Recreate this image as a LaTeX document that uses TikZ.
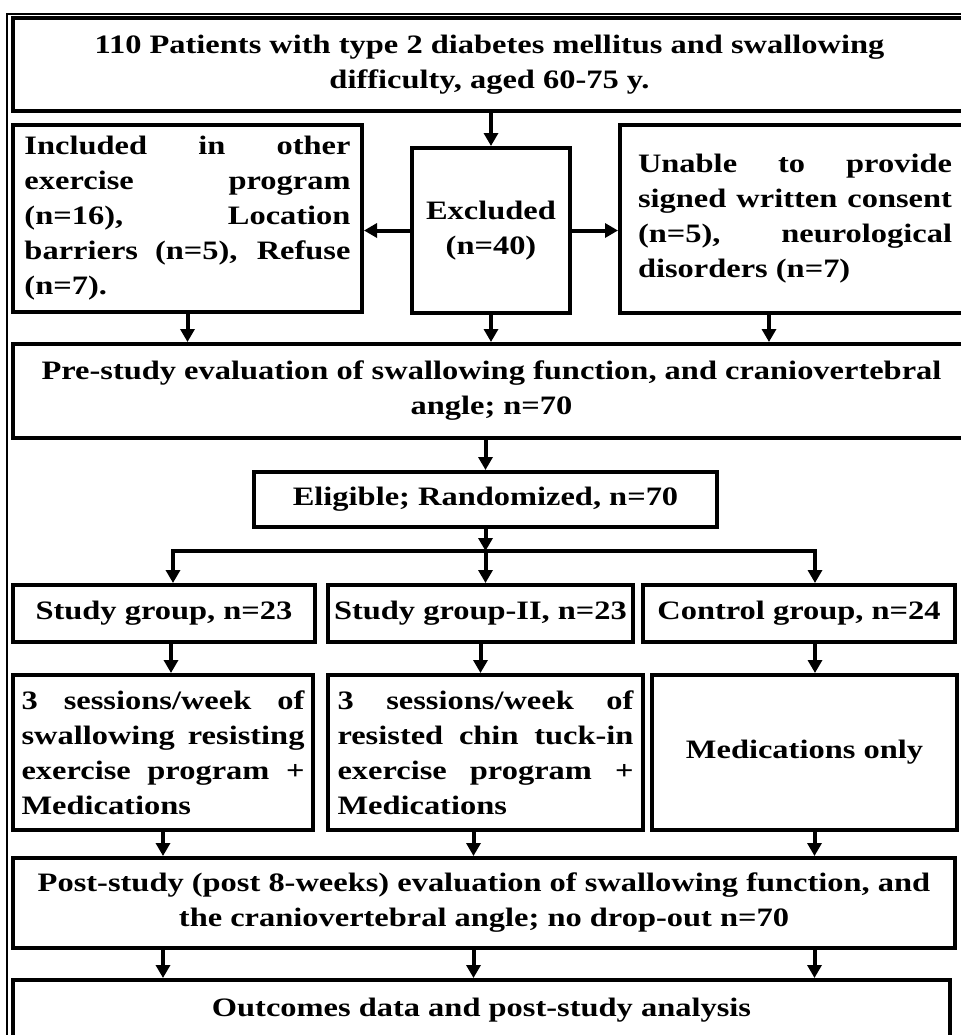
\documentclass[tikz,border=0pt]{standalone}
\usepackage{fontspec}
\setmainfont{Liberation Serif}[FakeStretch=1.22]
\usetikzlibrary{positioning, arrows.meta}
\hyphenpenalty=10000
\exhyphenpenalty=10000

\begin{document}
\begin{tikzpicture}[
  x=0.5pt, y=-0.5pt,
  box/.style={draw, line width=2pt, inner sep=0pt, align=center,
    font=\fontsize{13.3}{17.5}\selectfont\bfseries},
  just/.style={box, align=justify},
  arr/.style={-{Triangle[length=6.5pt, width=7pt]}, line width=2pt},
  frame/.style={line width=0.8pt},
]
  \path[use as bounding box, fill=white] (0,0) rectangle (961,1035);
  \clip (0,0) rectangle (961,1035);
  \draw[frame] (7,14) rectangle (990,1050);

  \node[box, minimum width=476.5pt, minimum height=46.5pt] (top) at (489.5,64.5)
    {110 Patients with type 2 diabetes mellitus and swallowing\\ difficulty, aged 60-75 y.};
  \node[just, text width=163pt, minimum width=174.5pt, minimum height=93.5pt] (lft) at (187.5,218.5)
    {Included in other\linebreak exercise program\linebreak (n=16), Location\linebreak barriers (n=5), Refuse\linebreak (n=7).};
  \node[box, minimum width=79pt, minimum height=82.5pt] (excl) at (491,230.5) {Excluded\\(n=40)};
  \node[just, text width=157pt, minimum width=175pt, minimum height=94pt] (rgt) at (795,219)
    {Unable to provide\linebreak signed written consent\linebreak (n=5), neurological\linebreak disorders (n=7)};
  \node[box, minimum width=478.5pt, minimum height=47pt] (pre) at (491.5,391)
    {Pre-study evaluation of swallowing function, and craniovertebral\\ angle; n=70};
  \node[box, minimum width=231.5pt, minimum height=27.5pt] (elig) at (485.5,499.5) {Eligible; Randomized, n=70};
  \coordinate (split) at (485.5,551);

  \node[box, minimum width=151pt, minimum height=28.5pt] (g1) at (164,613.5) {Study group, n=23};
  \node[box, minimum width=152.5pt, minimum height=28.5pt, right=4.5pt of g1] (g2) {Study group-II, n=23};
  \node[box, minimum width=156pt, minimum height=28.5pt, right=3pt of g2] (g3) {Control group, n=24};

  \node[just, text width=141.5pt, minimum width=150pt, minimum height=77.5pt] (t1) at (163,752.5)
    {3 sessions/week of\linebreak swallowing resisting\linebreak exercise program +\linebreak Medications};
  \node[just, text width=148pt, minimum width=157.5pt, minimum height=77.5pt, right=5.5pt of t1] (t2)
    {3 sessions/week of\linebreak resisted chin tuck-in\linebreak exercise program +\linebreak Medications};
  \node[box, minimum width=152.5pt, minimum height=77.5pt, right=2.5pt of t2] (t3) {Medications only};

  \node[box, minimum width=471pt, minimum height=45pt] (post) at (484,903)
    {Post-study (post 8-weeks) evaluation of swallowing function, and\\ the craniovertebral angle; no drop-out n=70};
  \node[box, minimum width=468.5pt, minimum height=30pt] (out) at (481.5,1010) {Outcomes data and post-study analysis};

  % arrow columns
  \coordinate (rgtc) at ([xshift=-13pt]rgt.south);
  \coordinate (g1s) at ([xshift=3.5pt]g1.south);
  \coordinate (g3s) at ([xshift=8pt]g3.south);
  \coordinate (t2s) at ([xshift=-6pt]t2.south);
  \coordinate (t3s) at ([xshift=5pt]t3.south);

  \draw[arr] (excl.north |- top.south) -- (excl);
  \draw[arr] (excl.west) -- (excl.west -| lft.east);
  \draw[arr] (excl.east) -- (excl.east -| rgt.west);
  \draw[arr] (lft) -- (lft |- pre.north);
  \draw[arr] (excl) -- (excl |- pre.north);
  \draw[arr] (rgtc) -- (rgtc |- pre.north);
  \draw[arr] (elig |- pre.south) -- (elig);
  \draw[arr] (elig) -- (split);
  \draw[arr] (split) -| ([xshift=4.5pt]g1.north);
  \draw[arr] (split) -- (split |- g2.north);
  \draw[arr] (split) -| ([xshift=8pt]g3.north);
  \draw[arr] (g1s) -- (g1s |- t1.north);
  \draw[arr] (g2) -- (g2 |- t2.north);
  \draw[arr] (g3s) -- (g3s |- t3.north);
  \draw[arr] (t1) -- (t1 |- post.north);
  \draw[arr] (t2s) -- (t2s |- post.north);
  \draw[arr] (t3s) -- (t3s |- post.north);
  \draw[arr] (t1 |- post.south) -- (t1 |- out.north);
  \draw[arr] (t2s |- post.south) -- (t2s |- out.north);
  \draw[arr] (t3s |- post.south) -- (t3s |- out.north);
\end{tikzpicture}
\end{document}
